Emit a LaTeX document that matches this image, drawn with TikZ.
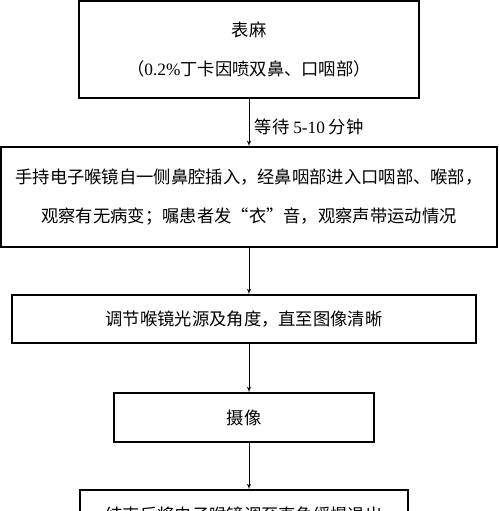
\documentclass[tikz,border=0pt]{standalone}
\usepackage{fontspec}
\setmainfont{Noto Sans CJK SC}
\newfontfamily\latin{Liberation Serif}
\usetikzlibrary{arrows,positioning}
\tikzstyle{box} = [draw, rectangle, line width=1.1pt, text centered, align=center, inner sep=0pt]
\tikzstyle{axis} = [coordinate]
\tikzstyle{line} = [draw, line width=0.9pt, -latex']

\begin{document}
\begin{tikzpicture}[x=1pt, y=-1pt, font=\fontsize{17.3}{39}\selectfont]
	\useasboundingbox (0,0) rectangle (500,511);
	\coordinate [axis] (axis) at (249,0);
	\node [box, minimum width=340pt, minimum height=97pt] (biaoma) at (249,49.5) {表麻\\（{\latin 0.2\%}丁卡因喷双鼻、口咽部）};
	\node [box, minimum width=496pt, minimum height=100pt] (jiancha) at (249,197) {手持电子喉镜自一侧鼻腔插入，经鼻咽部进入口咽部、喉部，\\观察有无病变；嘱患者发“衣”音，观察声带运动情况};
	\node [box, minimum width=464pt, minimum height=48pt] (tiaojie) at (244,319) {调节喉镜光源及角度，直至图像清晰};
	\node [box, minimum width=260pt, minimum height=49pt] (shexiang) at (244,417.5) {摄像};
	\node [box, minimum width=328pt, minimum height=49pt] (tuichu) at (244,514.5) {结束后将电子喉镜调至直角缓慢退出};

	\path [line] (biaoma) -- node[right, pos=0.6, xshift=2pt]{等待 {\latin 5-10} 分钟} (jiancha);
	\path [line] (jiancha.south) -- (tiaojie.north -| axis);
	\path [line] (tiaojie.south -| axis) -- (shexiang.north -| axis);
	\path [line] (shexiang.south -| axis) -- (tuichu.north -| axis);
\end{tikzpicture}
\end{document}
